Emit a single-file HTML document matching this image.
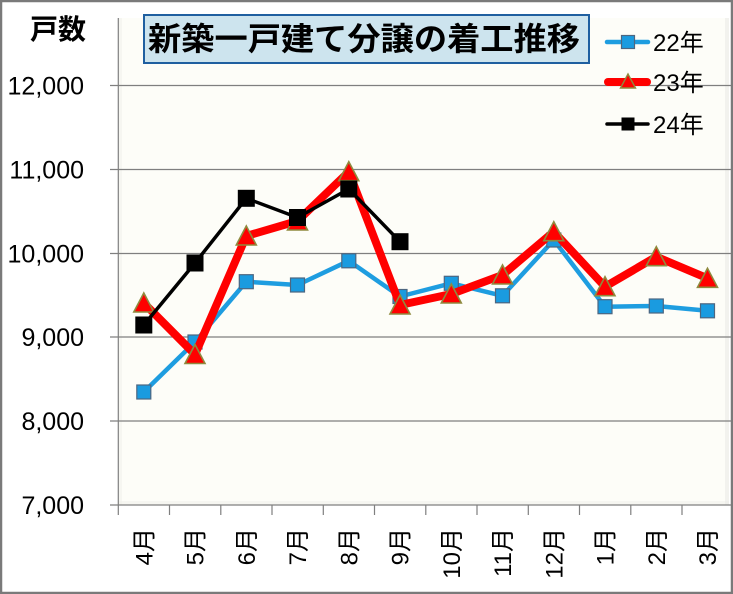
<!DOCTYPE html>
<html><head><meta charset="utf-8">
<style>
html,body{margin:0;padding:0;background:#fff;}
body{width:733px;height:594px;overflow:hidden;}
svg{display:block;}
text{font-family:"Liberation Sans","Noto Sans CJK JP",sans-serif;}
</style></head>
<body>
<svg width="733" height="594" viewBox="0 0 733 594" xmlns="http://www.w3.org/2000/svg">
<rect x="0" y="0" width="733" height="594" fill="#ffffff"/>
<!-- plot area -->
<rect x="118" y="18" width="611" height="487" fill="#fdfdf8"/>
<rect x="119" y="18" width="3" height="487" fill="#efefea" opacity="0.5"/>
<rect x="118" y="501" width="611" height="4" fill="#efefea" opacity="0.5"/>
<rect x="725" y="18" width="4" height="487" fill="#ebebe7" opacity="0.6"/>
<!-- gridlines -->
<g stroke="#7f7f7f" stroke-width="1.2">
<line x1="110" y1="85.5" x2="731" y2="85.5"/>
<line x1="110" y1="169.5" x2="731" y2="169.5"/>
<line x1="110" y1="253.5" x2="731" y2="253.5"/>
<line x1="110" y1="337" x2="731" y2="337"/>
<line x1="110" y1="421" x2="731" y2="421"/>
<line x1="110" y1="505" x2="731" y2="505"/>
<line x1="118.3" y1="18" x2="118.3" y2="505"/>
</g>
<!-- x ticks -->
<g stroke="#7f7f7f" stroke-width="1.2">
<line x1="118.3" y1="505" x2="118.3" y2="515"/>
<line x1="169.5" y1="505" x2="169.5" y2="515"/>
<line x1="220.8" y1="505" x2="220.8" y2="515"/>
<line x1="272" y1="505" x2="272" y2="515"/>
<line x1="323.3" y1="505" x2="323.3" y2="515"/>
<line x1="374.5" y1="505" x2="374.5" y2="515"/>
<line x1="425.8" y1="505" x2="425.8" y2="515"/>
<line x1="477" y1="505" x2="477" y2="515"/>
<line x1="528.3" y1="505" x2="528.3" y2="515"/>
<line x1="579.5" y1="505" x2="579.5" y2="515"/>
<line x1="630.8" y1="505" x2="630.8" y2="515"/>
<line x1="682" y1="505" x2="682" y2="515"/>
</g>
<!-- y labels -->
<g font-size="25" fill="#000" text-anchor="end">
<text x="84" y="94.5">12,000</text>
<text x="84" y="178.5">11,000</text>
<text x="84" y="262.5">10,000</text>
<text x="84" y="346">9,000</text>
<text x="84" y="430">8,000</text>
<text x="84" y="514">7,000</text>
</g>
<!-- x labels -->
<g font-size="24" fill="#000" text-anchor="end">
<text transform="translate(152.3,528) rotate(-90)">4月</text>
<text transform="translate(203.5,528) rotate(-90)">5月</text>
<text transform="translate(254.8,528) rotate(-90)">6月</text>
<text transform="translate(306,528) rotate(-90)">7月</text>
<text transform="translate(357.3,528) rotate(-90)">8月</text>
<text transform="translate(408.5,528) rotate(-90)">9月</text>
<text transform="translate(459.8,528) rotate(-90)">10月</text>
<text transform="translate(511,528) rotate(-90)">11月</text>
<text transform="translate(562.3,528) rotate(-90)">12月</text>
<text transform="translate(613.5,528) rotate(-90)">1月</text>
<text transform="translate(664.8,528) rotate(-90)">2月</text>
<text transform="translate(716,528) rotate(-90)">3月</text>
</g>
<!-- series 22 (blue) -->
<polyline fill="none" stroke="#1e9de0" stroke-width="4.5" stroke-linejoin="round"
 points="143.8,392 195,342 246.3,281.7 297.5,285 348.8,260.8 400,296.5 451.3,283.3 502.5,295.8 553.8,240 605,306.7 656.3,306 707.5,310.8"/>
<g fill="#1a9be0" stroke="#4d6680" stroke-width="1.2">
<rect x="136.8" y="385" width="14" height="14"/>
<rect x="188" y="335" width="14" height="14"/>
<rect x="239.3" y="274.7" width="14" height="14"/>
<rect x="290.5" y="278" width="14" height="14"/>
<rect x="341.8" y="253.8" width="14" height="14"/>
<rect x="393" y="289.5" width="14" height="14"/>
<rect x="444.3" y="276.3" width="14" height="14"/>
<rect x="495.5" y="288.8" width="14" height="14"/>
<rect x="546.8" y="233" width="14" height="14"/>
<rect x="598" y="299.7" width="14" height="14"/>
<rect x="649.3" y="299" width="14" height="14"/>
<rect x="700.5" y="303.8" width="14" height="14"/>
</g>
<!-- series 23 (red) -->
<polyline fill="none" stroke="#ff0000" stroke-width="8" stroke-linejoin="round"
 points="143.8,303 195,354.5 246.3,236 297.5,221 348.8,171.7 400,305 451.3,294 502.5,275 553.8,231.7 605,286.7 656.3,256.7 707.5,278.3"/>
<g fill="#ff0000" stroke="#8f8a3e" stroke-width="1.6" stroke-linejoin="miter">
<polygon points="143.8,293 133.8,312 153.8,312"/>
<polygon points="195,344.5 185,363.5 205,363.5"/>
<polygon points="246.3,226 236.3,245 256.3,245"/>
<polygon points="297.5,211 287.5,230 307.5,230"/>
<polygon points="348.8,161.7 338.8,180.7 358.8,180.7"/>
<polygon points="400,295 390,314 410,314"/>
<polygon points="451.3,284 441.3,303 461.3,303"/>
<polygon points="502.5,265 492.5,284 512.5,284"/>
<polygon points="553.8,221.7 543.8,240.7 563.8,240.7"/>
<polygon points="605,276.7 595,295.7 615,295.7"/>
<polygon points="656.3,246.7 646.3,265.7 666.3,265.7"/>
<polygon points="707.5,268.3 697.5,287.3 717.5,287.3"/>
</g>
<!-- series 24 (black) -->
<polyline fill="none" stroke="#000" stroke-width="3.5" stroke-linejoin="round"
 points="143.8,325 195,263 246.3,198.3 297.5,217.5 348.8,189 400,241.7"/>
<g fill="#000">
<rect x="135.3" y="316.5" width="17" height="17"/>
<rect x="186.5" y="254.5" width="17" height="17"/>
<rect x="237.8" y="189.8" width="17" height="17"/>
<rect x="289" y="209" width="17" height="17"/>
<rect x="340.3" y="180.5" width="17" height="17"/>
<rect x="391.5" y="233.2" width="17" height="17"/>
</g>
<!-- legend -->
<line x1="607" y1="42" x2="648" y2="42" stroke="#1e9de0" stroke-width="4.5" stroke-linecap="round"/>
<rect x="621.5" y="35.5" width="13" height="13" fill="#1a9be0" stroke="#4d6680" stroke-width="1.2"/>
<text x="653" y="51" font-size="24">22年</text>
<line x1="608" y1="82" x2="647" y2="82" stroke="#ff0000" stroke-width="8" stroke-linecap="round"/>
<polygon points="628,74 620.5,88 635.5,88" fill="#ff0000" stroke="#8f8a3e" stroke-width="1.4"/>
<text x="653" y="91" font-size="24">23年</text>
<line x1="607" y1="124" x2="648" y2="124" stroke="#000" stroke-width="3.5" stroke-linecap="round"/>
<rect x="621.5" y="117.5" width="13" height="13" fill="#000"/>
<text x="653" y="133" font-size="24">24年</text>
<!-- y axis title -->
<text x="30" y="39" font-size="28" font-weight="bold">戸数</text>
<!-- chart title -->
<rect x="144" y="15" width="445" height="48" fill="#cde4ee" stroke="#1f5fa0" stroke-width="2"/>
<text x="148" y="50" font-size="32" font-weight="bold" textLength="432" lengthAdjust="spacingAndGlyphs">新築一戸建て分譲の着工推移</text>
<!-- outer border -->
<rect x="1" y="1" width="731" height="592" fill="none" stroke="#7a7a7a" stroke-width="2.5"/>
</svg>
</body></html>
